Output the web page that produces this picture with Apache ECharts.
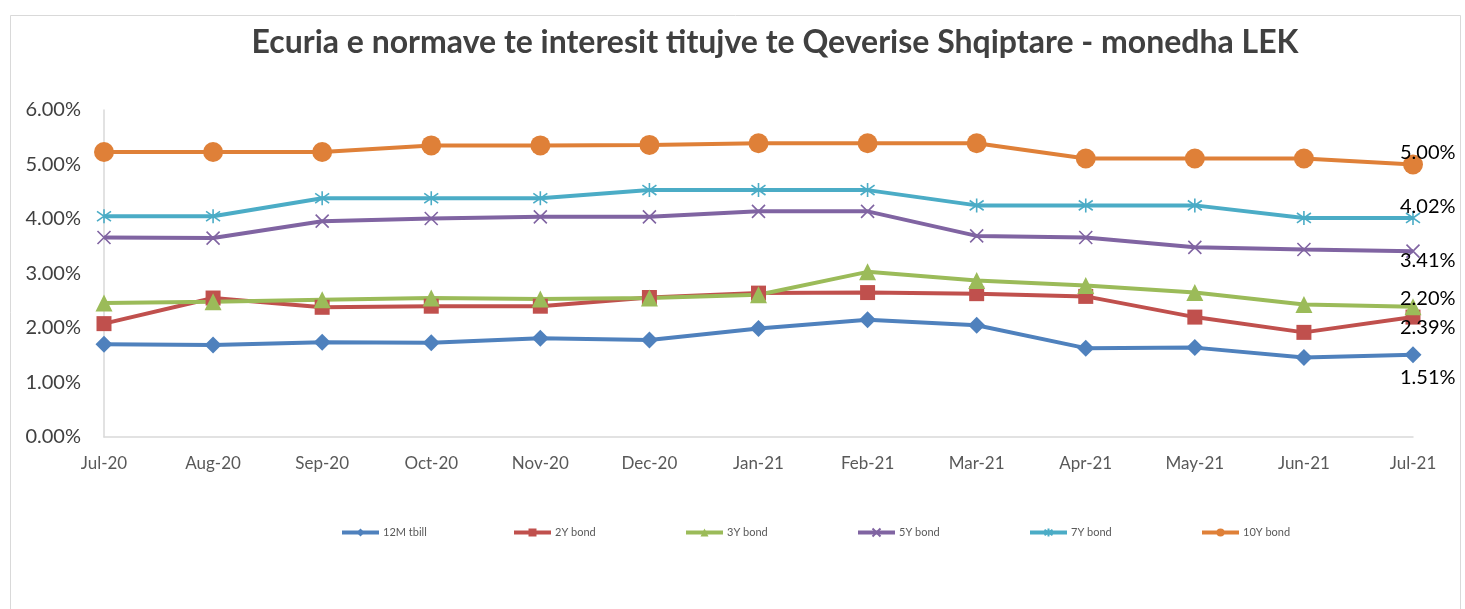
<!DOCTYPE html>
<html>
<head>
<meta charset="utf-8">
<script src="https://cdn.jsdelivr.net/npm/echarts@6/dist/echarts.min.js"></script>
<style>
html,body{margin:0;padding:0;background:#fff;}
#chart{width:1465px;height:609px;}
</style>
</head>
<body>
<div id="chart"></div>
<script>
var categories = ['Jul-20','Aug-20','Sep-20','Oct-20','Nov-20','Dec-20','Jan-21','Feb-21','Mar-21','Apr-21','May-21','Jun-21','Jul-21'];
var yTicks = [0,1,2,3,4,5,6];
var seriesNames = ['12M tbill','2Y bond','3Y bond','5Y bond','7Y bond','10Y bond'];
var tbill12M = [1.70,1.69,1.74,1.73,1.81,1.78,1.99,2.15,2.05,1.63,1.64,1.46,1.51];
var bond2Y   = [2.08,2.55,2.38,2.40,2.40,2.56,2.64,2.65,2.63,2.58,2.20,1.92,2.20];
var bond3Y   = [2.46,2.48,2.52,2.55,2.53,2.55,2.61,3.03,2.87,2.78,2.65,2.43,2.39];
var bond5Y   = [3.66,3.65,3.96,4.01,4.04,4.04,4.14,4.14,3.69,3.66,3.48,3.44,3.41];
var bond7Y   = [4.05,4.05,4.38,4.38,4.38,4.53,4.53,4.53,4.25,4.25,4.25,4.02,4.02];
var bond10Y  = [5.23,5.23,5.23,5.35,5.35,5.36,5.39,5.39,5.39,5.11,5.11,5.11,5.00];

var FONT = 'Lato';
var chart = echarts.init(document.getElementById('chart'));

function buildData(arr, dx, dy) {
  return arr.map(function (v, i) {
    if (i === arr.length - 1) {
      return {
        value: v,
        label: {
          show: true, position: 'inside', align: 'left', verticalAlign: 'middle',
          offset: [dx, dy], color: '#000', fontSize: 20, fontFamily: FONT,
          formatter: function (p) { return p.value.toFixed(2) + '%'; }
        }
      };
    }
    return v;
  });
}

var xPath = 'path://M0,0L10,10M10,0L0,10';
var starPath = 'path://M5,0L5,10M1.5,1.5L8.5,8.5M8.5,1.5L1.5,8.5';

function mkSeries(name, arr, color, symbol, size, dx, dy, stroke) {
  return {
    name: name, type: 'line', data: buildData(arr, dx, dy),
    symbol: symbol, symbolSize: size, showAllSymbol: true,
    lineStyle: { color: color, width: 4 },
    itemStyle: stroke ? { color: color, borderColor: color, borderWidth: 1.6 } : { color: color },
    emphasis: { disabled: true },
    z: 2
  };
}

var legends = seriesNames.map(function (n, i) {
  return {
    left: 335 + i * 172, top: 522, itemWidth: 37, itemHeight: 10, itemGap: 0,
    lineStyle: { width: 4 },
    textStyle: { fontSize: 11, color: '#595959', fontFamily: FONT, padding: [0, 0, 0, -1] },
    data: [n]
  };
});

var option = {
  backgroundColor: '#fff',
  animation: false,
  textStyle: { fontFamily: FONT },
  title: {
    text: 'Ecuria e normave te interesit titujve te Qeverise Shqiptare - monedha LEK',
    left: 770, top: 22, textAlign: 'center',
    textStyle: { fontSize: 32, fontWeight: 'bold', color: '#404040', fontFamily: FONT }
  },
  graphic: [{
    type: 'rect', left: 8, top: 13, z: -1, silent: true,
    shape: { width: 1450, height: 620 },
    style: { fill: 'none', stroke: '#d9d9d9', lineWidth: 1 }
  }],
  legend: legends,
  grid: { left: 104, right: 52, top: 110, bottom: 172, containLabel: false },
  xAxis: {
    type: 'category', data: categories, boundaryGap: false,
    axisLine: { lineStyle: { color: '#d9d9d9', width: 1.5 } },
    axisTick: { show: false },
    axisLabel: { color: '#595959', fontSize: 17, margin: 18, fontFamily: FONT, interval: 0 },
    splitLine: { show: false }
  },
  yAxis: {
    type: 'value', min: yTicks[0], max: yTicks[yTicks.length - 1], interval: 1,
    axisLine: { show: true, lineStyle: { color: '#d9d9d9', width: 1.5 } },
    axisTick: { show: false },
    splitLine: { show: false },
    axisLabel: { color: '#404040', fontSize: 20, margin: 23, fontFamily: FONT,
      formatter: function (v) { return v.toFixed(2) + '%'; } }
  },
  series: [
    mkSeries(seriesNames[0], tbill12M, '#4f81bd', 'diamond', 17, -13, 23),
    mkSeries(seriesNames[1], bond2Y, '#c0504d', 'rect', 15, -13, -19),
    mkSeries(seriesNames[2], bond3Y, '#9bbb59', 'triangle', 17, -13, 21),
    mkSeries(seriesNames[3], bond5Y, '#8064a2', xPath, 13, -13, 9, true),
    mkSeries(seriesNames[4], bond7Y, '#4bacc6', starPath, 14, -13, -11, true),
    mkSeries(seriesNames[5], bond10Y, '#df8038', 'circle', 20, -13, -12)
  ]
};
chart.setOption(option);
</script>
</body>
</html>
